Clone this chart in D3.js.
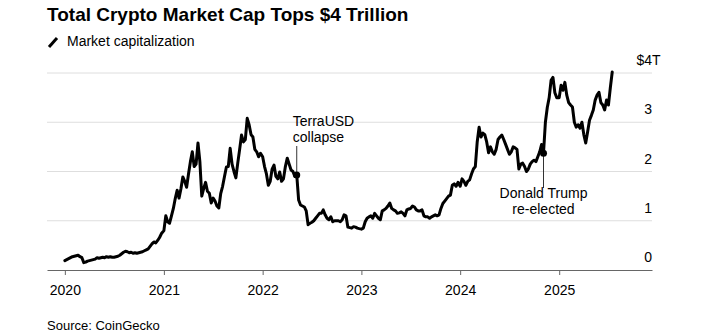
<!DOCTYPE html>
<html>
<head>
<meta charset="utf-8">
<script src="https://cdn.jsdelivr.net/npm/d3@7"></script>
<style>
  body { margin: 0; background: #fff; }
  svg { display: block; font-family: "Liberation Sans", Arial, Helvetica, sans-serif; }
</style>
</head>
<body>
<div id="chart"></div>
<script>
// Total crypto market cap, $ trillions, one value per week starting Jan 1 of each year
const cap2020 = [
  0.19, 0.21, 0.23, 0.25, 0.27,   // Jan
  0.28, 0.29, 0.30, 0.27,         // Feb
  0.25, 0.15, 0.16, 0.18,         // Mar
  0.19, 0.20, 0.21, 0.22, 0.25,   // Apr
  0.24, 0.25, 0.26, 0.25,         // May
  0.27, 0.26, 0.27, 0.26,         // Jun
  0.26, 0.27, 0.28, 0.30, 0.33,   // Jul
  0.36, 0.38, 0.37, 0.35,         // Aug
  0.36, 0.34, 0.35, 0.34,         // Sep
  0.35, 0.36, 0.37, 0.39, 0.41,   // Oct
  0.43, 0.48, 0.53, 0.57,         // Nov
  0.55, 0.60, 0.66, 0.74          // Dec
];
const cap2021 = [
  0.80, 1.10, 0.98, 0.95, 1.10,
  1.25, 1.45, 1.62, 1.46,
  1.65, 1.89, 1.80, 1.68,
  1.95, 2.20, 2.40, 2.10, 2.15,
  2.58, 2.20, 1.50, 1.65,
  1.78, 1.60, 1.56, 1.36,
  1.46, 1.40, 1.30, 1.26, 1.55,
  1.70, 1.90, 2.09, 2.10,
  2.47, 2.15, 2.00, 1.87,
  2.17, 2.45, 2.74, 2.60, 2.65,
  3.08, 2.95, 2.75, 2.70,
  2.45, 2.40, 2.30, 2.37
];
const cap2022 = [
  2.30, 2.10, 1.95, 1.72, 1.80,
  2.05, 2.13, 1.90, 1.85,
  1.99, 1.80, 1.85, 2.10,
  2.27, 2.15, 2.03, 2.00, 1.90,
  1.93, 1.42, 1.32, 1.30,
  1.28, 1.20, 0.92, 0.95,
  0.97, 1.00, 1.05, 1.10, 1.15,
  1.15, 1.22, 1.12, 1.05,
  1.02, 1.08, 0.98, 1.00,
  1.00, 1.00, 0.98, 1.02, 1.12,
  1.10, 0.87, 0.86, 0.85,
  0.88, 0.87, 0.85, 0.84
];
const cap2023 = [
  0.83, 0.85, 0.98, 1.05, 1.08,
  1.10, 1.05, 1.15, 1.10,
  1.05, 1.02, 1.20, 1.22,
  1.25, 1.30, 1.36, 1.25, 1.22,
  1.20, 1.15, 1.16, 1.18,
  1.15, 1.10, 1.22, 1.24,
  1.25, 1.30, 1.28, 1.22, 1.20,
  1.20, 1.22, 1.10, 1.08,
  1.08, 1.05, 1.08, 1.10,
  1.12, 1.10, 1.12, 1.25, 1.35,
  1.40, 1.45, 1.50, 1.52,
  1.72, 1.75, 1.70, 1.78
];
const cap2024 = [
  1.70, 1.85, 1.80, 1.72, 1.80,
  1.83, 1.95, 2.05, 2.10,
  2.60, 2.90, 2.70, 2.78,
  2.75, 2.60, 2.38, 2.50, 2.40,
  2.35, 2.45, 2.65, 2.70,
  2.74, 2.65, 2.55, 2.45,
  2.35, 2.40, 2.50, 2.48, 2.45,
  2.05, 2.15, 2.17, 2.10,
  2.00, 2.05, 2.15, 2.20,
  2.23, 2.20, 2.30, 2.40, 2.55,
  2.37, 3.00, 3.30, 3.50,
  3.85, 3.91, 3.60, 3.50
];
const cap2025 = [
  3.50, 3.75, 3.65, 3.81, 3.55,
  3.40, 3.35, 3.31, 3.00,
  2.90, 2.95, 2.88, 3.00,
  2.75, 2.58, 2.80, 3.04, 3.14,
  3.25, 3.45, 3.55, 3.61,
  3.40, 3.35, 3.25, 3.45,
  3.35, 3.70, 4.02
];

const years     = [2020, 2021, 2022, 2023, 2024, 2025];
const yTicks    = [0, 1, 2, 3, 4];
const notes     = [
  { year: 2022, week: 18, lines: ["TerraUSD", "collapse"],        side: "above" },
  { year: 2024, week: 44, lines: ["Donald Trump", "re-elected"],  side: "below" }
];

const capByYear = [cap2020, cap2021, cap2022, cap2023, cap2024, cap2025];
const series = [];
capByYear.forEach(function(arr, i) {
  arr.forEach(function(v, w) {
    series.push({ year: years[i], week: w, date: d3.timeDay.offset(new Date(years[i], 0, 1), 7 * w), value: v });
  });
});

const W = 719, H = 333;
const svg = d3.select("#chart").append("svg")
  .attr("width", W)
  .attr("height", H);

const x = d3.scaleTime()
  .domain([new Date(2019, 9, 27), new Date(2025, 11, 10)])
  .range([47, 652]);
const y = d3.scaleLinear()
  .domain([0, 4])
  .range([270, 73]);

// title + legend
svg.append("text").attr("x", 47).attr("y", 21)
  .text("Total Crypto Market Cap Tops $4 Trillion")
  .style("font-size", "19px").style("font-weight", "bold").attr("fill", "#000");
svg.append("line").attr("x1", 49).attr("y1", 47).attr("x2", 57).attr("y2", 38)
  .attr("stroke", "#000").attr("stroke-width", 3);
svg.append("text").attr("x", 67).attr("y", 46)
  .text("Market capitalization").style("font-size", "14px").attr("fill", "#000");

// gridlines
svg.append("g").selectAll("line")
  .data(yTicks.filter(d => d > 0))
  .enter().append("line")
    .attr("x1", 47).attr("x2", 652)
    .attr("y1", d => y(d)).attr("y2", d => y(d))
    .attr("stroke", "#dedede").attr("stroke-width", 1);

// y labels sit just above their gridline, right edge of the number at 652
const yLab = svg.append("g").style("font-size", "14px").attr("fill", "#000");
yTicks.forEach(function(d) {
  yLab.append("text").attr("x", 652).attr("y", y(d) - 8)
    .attr("text-anchor", "end")
    .text(d === 4 ? "$4" : d);
});
yLab.append("text").attr("x", 652).attr("y", y(4) - 8).text("T");

// x axis
const xAxis = svg.append("g")
  .attr("transform", "translate(0,270)")
  .call(d3.axisBottom(x)
    .ticks(d3.timeYear.every(1))
    .tickFormat(d3.timeFormat("%Y"))
    .tickSize(5)
    .tickSizeOuter(0)
    .tickPadding(10));
xAxis.select(".domain").attr("stroke", "#666");
xAxis.selectAll(".tick line").attr("stroke", "#666");
xAxis.selectAll(".tick text")
  .style("font-size", "14px")
  .style("font-family", "'Liberation Sans', Arial, sans-serif")
  .attr("fill", "#000");

// the market cap line
const line = d3.line()
  .x(d => x(d.date))
  .y(d => y(d.value));
svg.append("path")
  .datum(series)
  .attr("d", line)
  .attr("fill", "none")
  .attr("stroke", "#000")
  .attr("stroke-width", 3)
  .attr("stroke-linejoin", "round")
  .attr("stroke-linecap", "round");

// annotations
notes.forEach(function(n) {
  const p = series.find(d => d.year === n.year && d.week === n.week);
  const px = x(p.date), py = y(p.value);
  const g = svg.append("g");
  if (n.side === "above") {
    g.append("line").attr("x1", px).attr("x2", px).attr("y1", 146).attr("y2", py)
      .attr("stroke", "#333").attr("stroke-width", 1);
    n.lines.forEach(function(t, i) {
      g.append("text").attr("x", px - 4).attr("y", 126 + i * 16)
        .text(t).style("font-size", "14px").attr("fill", "#000");
    });
  } else {
    g.append("line").attr("x1", px).attr("x2", px).attr("y1", py).attr("y2", 188)
      .attr("stroke", "#333").attr("stroke-width", 1);
    n.lines.forEach(function(t, i) {
      g.append("text").attr("x", px).attr("y", 198 + i * 16)
        .attr("text-anchor", "middle")
        .text(t).style("font-size", "14px").attr("fill", "#000");
    });
  }
  g.append("circle").attr("cx", px).attr("cy", py).attr("r", 3.5).attr("fill", "#000");
});

// source
svg.append("text").attr("x", 47).attr("y", 330)
  .text("Source: CoinGecko").style("font-size", "13px").attr("fill", "#000");
</script>
</body>
</html>
